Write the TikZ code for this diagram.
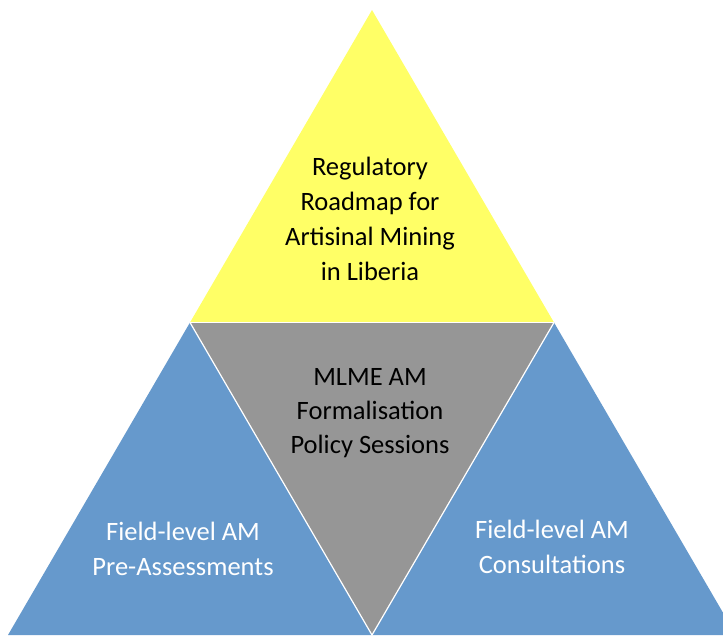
\documentclass[tikz,border=0pt]{standalone}
\usepackage{fontspec}
\setmainfont{Carlito}
\definecolor{topyellow}{RGB}{255,255,102}
\definecolor{midgray}{RGB}{150,150,150}
\definecolor{sideblue}{RGB}{102,153,204}
\tikzset{
  edge/.style={draw=white, line width=1.2pt},
  lbl/.style={align=center, inner sep=0pt, font=\fontsize{26.5}{35}\selectfont},
}

\begin{document}
\begin{tikzpicture}[x=1pt,y=-1pt]
\useasboundingbox (0,0) rectangle (723,635);
\clip (0,0) rectangle (723,635);

% corners of the big triangle and midpoints of its sides
\coordinate (apex) at (372,10);
\coordinate (bl) at (8,635);
\coordinate (br) at (736,635);
\coordinate (ml) at (190,322.5);
\coordinate (mr) at (554,322.5);
\coordinate (bm) at (372,635);

% four sub-triangles
\fill[topyellow] (apex) -- (ml) -- (mr) -- cycle;
\fill[sideblue] (bl) -- (ml) -- (bm) -- cycle;
\fill[sideblue] (bm) -- (mr) -- (br) -- cycle;
\fill[midgray] (ml) -- (mr) -- (bm) -- cycle;

% thin white seams
\draw[edge] (ml) -- (mr);
\draw[edge] (ml) -- (bm) -- (mr);

% labels
\node[lbl] (roadmap) at (370,219) {Regulatory\\Roadmap for\\Artisinal Mining\\in Liberia};
\node[lbl, font=\fontsize{26.5}{34}\selectfont] (policy) at (370,413) {MLME AM\\Formalisation\\Policy Sessions};
\node[lbl, text=white] (preass) at (183,549) {Field-level AM\\Pre-Assessments};
\node[lbl, text=white] (consult) at (552,547) {Field-level AM\\Consultations};
\end{tikzpicture}
\end{document}
